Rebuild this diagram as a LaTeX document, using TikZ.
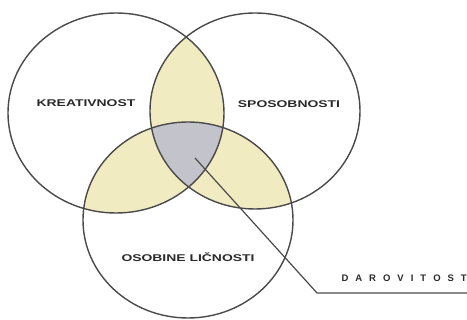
\documentclass[tikz,border=0pt]{standalone}
\usepackage{fontspec}
\setmainfont{Liberation Sans}
\definecolor{lens}{HTML}{F1EBC2}
\definecolor{core}{HTML}{C3C3CB}
\definecolor{edge}{HTML}{4A4A4A}
\definecolor{txt}{HTML}{2A2A2A}
\tikzset{
  venn/.style={draw=edge, line width=1.4pt},
  lbl/.style={text=txt, inner sep=0pt, font=\fontsize{9.8}{10}\selectfont\bfseries},
  leader/.style={draw=edge, line width=1.2pt},
}
\newcommand{\Lell}{(116,113) ellipse [x radius=108pt, y radius=100pt]}
\newcommand{\Rell}{(255,111) ellipse [x radius=105pt, y radius=98pt]}
\newcommand{\Bell}{(188,220) ellipse [x radius=105pt, y radius=98pt]}
\begin{document}
\begin{tikzpicture}[x=1pt,y=-1pt]
\useasboundingbox (0,0) rectangle (467,320);
\fill[white] (0,0) rectangle (467,320);
\begin{scope}\clip \Lell; \fill[lens] \Rell; \fill[lens] \Bell; \end{scope}
\begin{scope}\clip \Rell; \fill[lens] \Bell; \end{scope}
\begin{scope}\clip \Lell; \clip \Rell; \fill[core] \Bell; \end{scope}
\draw[venn] \Lell;
\draw[venn] \Rell;
\draw[venn] \Bell;
\node[lbl] (kre) at (86,103) {\scalebox{1.42}[1]{KREATIVNOST}};
\node[lbl] (spo) at (289,104) {\scalebox{1.42}[1]{SPOSOBNOSTI}};
\node[lbl] (oso) at (188,257) {\scalebox{1.42}[1]{OSOBINE LIČNOSTI}};
\coordinate (gift) at (195,158);
\coordinate (bend) at (317,293);
\coordinate (end) at (467,293);
\draw[leader] (gift) -- (bend) -- (end);
\node[lbl, anchor=east, font=\fontsize{9.5}{10}\selectfont\bfseries] (dar) at (467,278)
  {D\hspace{7pt}A\hspace{7pt}R\hspace{7pt}O\hspace{7pt}V\hspace{7pt}I\hspace{7pt}T\hspace{7pt}O\hspace{7pt}S\hspace{7pt}T};
\end{tikzpicture}
\end{document}
